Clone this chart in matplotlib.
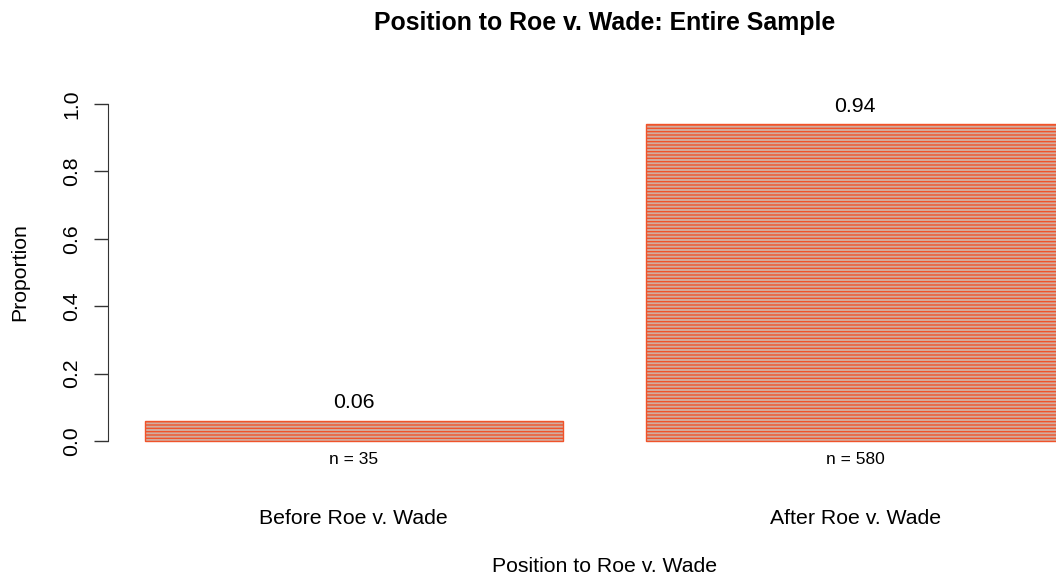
import matplotlib
matplotlib.use("Agg")
import matplotlib.pyplot as plt
from matplotlib.transforms import blended_transform_factory

categories = ["Before Roe v. Wade", "After Roe v. Wade"]
proportions = [0.06, 0.94]
counts = [35, 580]
yticks = [0.0, 0.2, 0.4, 0.6, 0.8, 1.0]

plt.rcParams['font.family'] = ['Liberation Sans', 'DejaVu Sans']
plt.rcParams['hatch.linewidth'] = 1.0

fig = plt.figure(figsize=(10.56, 5.75), dpi=100)
# plot region like R barplot: bars at 0.2-1.2 and 1.4-2.4, part of it runs off the right edge
ax = fig.add_axes((108 / 1056, 1 - 454.5 / 575, 993 / 1056, 364 / 575))

lefts = [0.2, 1.4]
bars = ax.bar(lefts, proportions, width=1.0, align="edge",
              facecolor="#d2aca0", edgecolor="#f0532a", hatch="-----",
              linewidth=1.0)

ax.set_xlim(0.112, 2.488)
ax.set_ylim(-0.04, 1.04)

for spine in ["top", "right", "bottom"]:
    ax.spines[spine].set_visible(False)
ax.spines["left"].set_bounds(0, 1)
ax.spines["left"].set_color("#333333")

ax.set_yticks(yticks)
ax.set_yticklabels([f"{t:.1f}" for t in yticks], rotation=90, va="center", fontsize=15.3)
ax.tick_params(axis="y", length=10, width=1, color="#333333", pad=9)
ax.set_xticks([])

ax.set_ylabel("Proportion", fontsize=15.3, labelpad=24)

trans = blended_transform_factory(ax.transData, fig.transFigure)
for rect, p, n, cat in zip(bars, proportions, counts, categories):
    cx = rect.get_x() + rect.get_width() / 2
    ax.text(cx, p + 0.025, f"{p:.2f}", ha="center", va="bottom", fontsize=15.3)
    ax.text(cx, 1 - 460 / 575, f"n = {n}", ha="center", va="center",
            fontsize=12.5, transform=trans)
    ax.text(cx, 1 - 518 / 575, cat, ha="center", va="center",
            fontsize=15.3, transform=trans)

ftrans = blended_transform_factory(ax.transAxes, fig.transFigure)
fig.text(0.5, 1 - 566 / 575, "Position to Roe v. Wade", ha="center", va="center",
         fontsize=15.3, transform=ftrans)
fig.text(0.5, 1 - 23 / 575, "Position to Roe v. Wade: Entire Sample",
         ha="center", va="center", fontsize=17.9, fontweight="bold", transform=ftrans)

fig.savefig("out.png", dpi=100)
